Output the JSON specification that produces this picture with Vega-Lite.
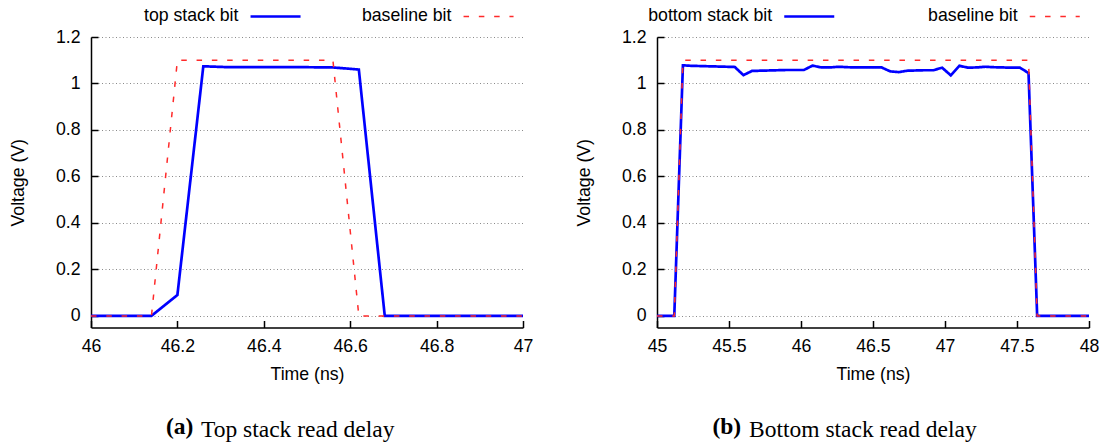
{
  "$schema": "https://vega.github.io/schema/vega-lite/v6.json",
  "background": "white",
  "padding": {"left": 9, "top": 7, "right": 5, "bottom": 0},
  "config": {
    "view": {"stroke": null},
    "font": "Liberation Sans",
    "axis": {
      "domainColor": "black", "domainWidth": 1.5,
      "tickColor": "black", "tickWidth": 1.5, "tickSize": -7,
      "labelFont": "Liberation Sans", "labelFontSize": 17.7, "labelColor": "black",
      "labelFlush": false, "labelOverlap": false,
      "titleFont": "Liberation Sans", "titleFontSize": 17.7, "titleFontWeight": "normal", "titleColor": "black",
      "gridColor": "#8a8a8a", "gridDash": [1, 2.5], "gridWidth": 1
    },
    "axisX": {"labelPadding": 17, "titlePadding": 10, "grid": false},
    "axisY": {"labelPadding": 18, "titlePadding": 28, "grid": true},
    "legend": {
      "orient": "none", "direction": "horizontal", "symbolType": "stroke", "symbolSize": 2500,
      "labelAlign": "right", "labelOffset": -46, "symbolOffset": 0,
      "labelFont": "Liberation Sans", "labelFontSize": 17.7, "labelColor": "black",
      "padding": 0, "gridAlign": "each", "labelLimit": 400
    }
  },
  "datasets": {
    "a": [
      {"series": "top stack bit", "t": 46, "v": 0},
      {"series": "top stack bit", "t": 46.14, "v": 0},
      {"series": "top stack bit", "t": 46.2, "v": 0.09},
      {"series": "top stack bit", "t": 46.26, "v": 1.074},
      {"series": "top stack bit", "t": 46.32, "v": 1.07},
      {"series": "top stack bit", "t": 46.38, "v": 1.07},
      {"series": "top stack bit", "t": 46.44, "v": 1.07},
      {"series": "top stack bit", "t": 46.5, "v": 1.07},
      {"series": "top stack bit", "t": 46.56, "v": 1.069},
      {"series": "top stack bit", "t": 46.62, "v": 1.06},
      {"series": "top stack bit", "t": 46.68, "v": 0},
      {"series": "top stack bit", "t": 47, "v": 0},
      {"series": "baseline bit", "t": 46, "v": 0},
      {"series": "baseline bit", "t": 46.14, "v": 0},
      {"series": "baseline bit", "t": 46.2, "v": 1.1},
      {"series": "baseline bit", "t": 46.56, "v": 1.1},
      {"series": "baseline bit", "t": 46.62, "v": 0},
      {"series": "baseline bit", "t": 47, "v": 0}
    ],
    "b": [
      {"series": "bottom stack bit", "t": 45, "v": 0},
      {"series": "bottom stack bit", "t": 45.12, "v": 0},
      {"series": "bottom stack bit", "t": 45.18, "v": 1.078},
      {"series": "bottom stack bit", "t": 45.24, "v": 1.076},
      {"series": "bottom stack bit", "t": 45.3, "v": 1.075},
      {"series": "bottom stack bit", "t": 45.36, "v": 1.074},
      {"series": "bottom stack bit", "t": 45.42, "v": 1.073},
      {"series": "bottom stack bit", "t": 45.48, "v": 1.072},
      {"series": "bottom stack bit", "t": 45.54, "v": 1.071},
      {"series": "bottom stack bit", "t": 45.6, "v": 1.036},
      {"series": "bottom stack bit", "t": 45.66, "v": 1.054},
      {"series": "bottom stack bit", "t": 45.72, "v": 1.055},
      {"series": "bottom stack bit", "t": 45.78, "v": 1.056},
      {"series": "bottom stack bit", "t": 45.84, "v": 1.057},
      {"series": "bottom stack bit", "t": 45.9, "v": 1.058},
      {"series": "bottom stack bit", "t": 45.96, "v": 1.058},
      {"series": "bottom stack bit", "t": 46.02, "v": 1.058},
      {"series": "bottom stack bit", "t": 46.08, "v": 1.077},
      {"series": "bottom stack bit", "t": 46.14, "v": 1.069},
      {"series": "bottom stack bit", "t": 46.2, "v": 1.069},
      {"series": "bottom stack bit", "t": 46.26, "v": 1.072},
      {"series": "bottom stack bit", "t": 46.32, "v": 1.07},
      {"series": "bottom stack bit", "t": 46.38, "v": 1.069},
      {"series": "bottom stack bit", "t": 46.44, "v": 1.069},
      {"series": "bottom stack bit", "t": 46.5, "v": 1.069},
      {"series": "bottom stack bit", "t": 46.56, "v": 1.069},
      {"series": "bottom stack bit", "t": 46.62, "v": 1.052},
      {"series": "bottom stack bit", "t": 46.68, "v": 1.049},
      {"series": "bottom stack bit", "t": 46.74, "v": 1.055},
      {"series": "bottom stack bit", "t": 46.8, "v": 1.056},
      {"series": "bottom stack bit", "t": 46.86, "v": 1.057},
      {"series": "bottom stack bit", "t": 46.92, "v": 1.057},
      {"series": "bottom stack bit", "t": 46.98, "v": 1.068},
      {"series": "bottom stack bit", "t": 47.04, "v": 1.035},
      {"series": "bottom stack bit", "t": 47.1, "v": 1.076},
      {"series": "bottom stack bit", "t": 47.16, "v": 1.068},
      {"series": "bottom stack bit", "t": 47.22, "v": 1.069},
      {"series": "bottom stack bit", "t": 47.28, "v": 1.072},
      {"series": "bottom stack bit", "t": 47.34, "v": 1.07},
      {"series": "bottom stack bit", "t": 47.4, "v": 1.069},
      {"series": "bottom stack bit", "t": 47.46, "v": 1.068},
      {"series": "bottom stack bit", "t": 47.52, "v": 1.068},
      {"series": "bottom stack bit", "t": 47.58, "v": 1.045},
      {"series": "bottom stack bit", "t": 47.64, "v": 0},
      {"series": "bottom stack bit", "t": 48, "v": 0},
      {"series": "baseline bit", "t": 45, "v": 0},
      {"series": "baseline bit", "t": 45.12, "v": 0},
      {"series": "baseline bit", "t": 45.18, "v": 1.1},
      {"series": "baseline bit", "t": 47.58, "v": 1.1},
      {"series": "baseline bit", "t": 47.64, "v": 0},
      {"series": "baseline bit", "t": 48, "v": 0}
    ]
  },
  "resolve": {
    "scale": {"x": "independent", "y": "independent", "color": "independent", "strokeDash": "independent"},
    "legend": {"color": "independent", "strokeDash": "independent"}
  },
  "spacing": 42,
  "hconcat": [
    {
      "title": {"text": "(a)", "orient": "bottom", "anchor": "start", "frame": "bounds", "dx": 156.5, "dy": -30, "font": "Liberation Serif", "fontSize": 23.5, "fontWeight": "bold", "color": "black"},
      "vconcat": [
        {
          "width": 432, "height": 290.5,
          "data": {"name": "a"},
          "title": {"text": "Top stack read delay", "orient": "bottom", "anchor": "start", "frame": "group", "dx": 110, "offset": 35, "font": "Liberation Serif", "fontSize": 23.5, "fontWeight": "normal", "color": "black"},
          "encoding": {
            "x": {"field": "t", "type": "quantitative", "scale": {"domain": [46, 47], "nice": false, "zero": false}, "axis": {"title": "Time (ns)", "values": [46, 46.2, 46.4, 46.6, 46.8, 47], "format": "~g"}},
            "y": {"field": "v", "type": "quantitative", "scale": {"domain": [-0.05, 1.2], "nice": false, "zero": false}, "axis": {"title": "Voltage (V)", "values": [0, 0.2, 0.4, 0.6, 0.8, 1, 1.2], "format": "~g"}},
            "color": {"field": "series", "type": "nominal", "scale": {"domain": ["top stack bit", "baseline bit"], "range": ["#0000ff", "#ff2a2a"]},
              "legend": {"title": null, "legendX": 175.7, "legendY": -29.6, "columnPadding": 55, "encode": {"symbols": {"update": {"strokeWidth": {"signal": "datum.value === 'baseline bit' ? 1.5 : 2.7"}}}}}},
            "strokeDash": {"field": "series", "type": "nominal", "scale": {"domain": ["top stack bit", "baseline bit"], "range": [[1, 0], [5.5, 9.8]]},
              "legend": {"title": null, "legendX": 175.7, "legendY": -29.6, "columnPadding": 55, "encode": {"symbols": {"update": {"strokeWidth": {"signal": "datum.value === 'baseline bit' ? 1.5 : 2.7"}}}}}}
          },
          "layer": [
            {"transform": [{"filter": "datum.series === 'top stack bit'"}], "mark": {"type": "line", "strokeWidth": 2.7}},
            {"transform": [{"filter": "datum.series === 'baseline bit'"}], "mark": {"type": "line", "strokeWidth": 1.5}}
          ]
        }
      ]
    },
    {
      "title": {"text": "(b)", "orient": "bottom", "anchor": "start", "frame": "bounds", "dx": 137, "dy": -30, "font": "Liberation Serif", "fontSize": 23.5, "fontWeight": "bold", "color": "black"},
      "vconcat": [
        {
          "width": 432, "height": 290.5,
          "data": {"name": "b"},
          "title": {"text": "Bottom stack read delay", "orient": "bottom", "anchor": "start", "frame": "group", "dx": 92, "offset": 35, "font": "Liberation Serif", "fontSize": 23.5, "fontWeight": "normal", "color": "black"},
          "encoding": {
            "x": {"field": "t", "type": "quantitative", "scale": {"domain": [45, 48], "nice": false, "zero": false}, "axis": {"title": "Time (ns)", "values": [45, 45.5, 46, 46.5, 47, 47.5, 48], "format": "~g"}},
            "y": {"field": "v", "type": "quantitative", "scale": {"domain": [-0.05, 1.2], "nice": false, "zero": false}, "axis": {"title": "Voltage (V)", "values": [0, 0.2, 0.4, 0.6, 0.8, 1, 1.2], "format": "~g"}},
            "color": {"field": "series", "type": "nominal", "scale": {"domain": ["bottom stack bit", "baseline bit"], "range": ["#0000ff", "#ff2a2a"]},
              "legend": {"title": null, "legendX": 143.4, "legendY": -29.6, "columnPadding": 87.5, "encode": {"symbols": {"update": {"strokeWidth": {"signal": "datum.value === 'baseline bit' ? 1.5 : 2.7"}}}}}},
            "strokeDash": {"field": "series", "type": "nominal", "scale": {"domain": ["bottom stack bit", "baseline bit"], "range": [[1, 0], [5.5, 9.8]]},
              "legend": {"title": null, "legendX": 143.4, "legendY": -29.6, "columnPadding": 87.5, "encode": {"symbols": {"update": {"strokeWidth": {"signal": "datum.value === 'baseline bit' ? 1.5 : 2.7"}}}}}}
          },
          "layer": [
            {"transform": [{"filter": "datum.series === 'bottom stack bit'"}], "mark": {"type": "line", "strokeWidth": 2.7}},
            {"transform": [{"filter": "datum.series === 'baseline bit'"}], "mark": {"type": "line", "strokeWidth": 1.5}}
          ]
        }
      ]
    }
  ]
}
